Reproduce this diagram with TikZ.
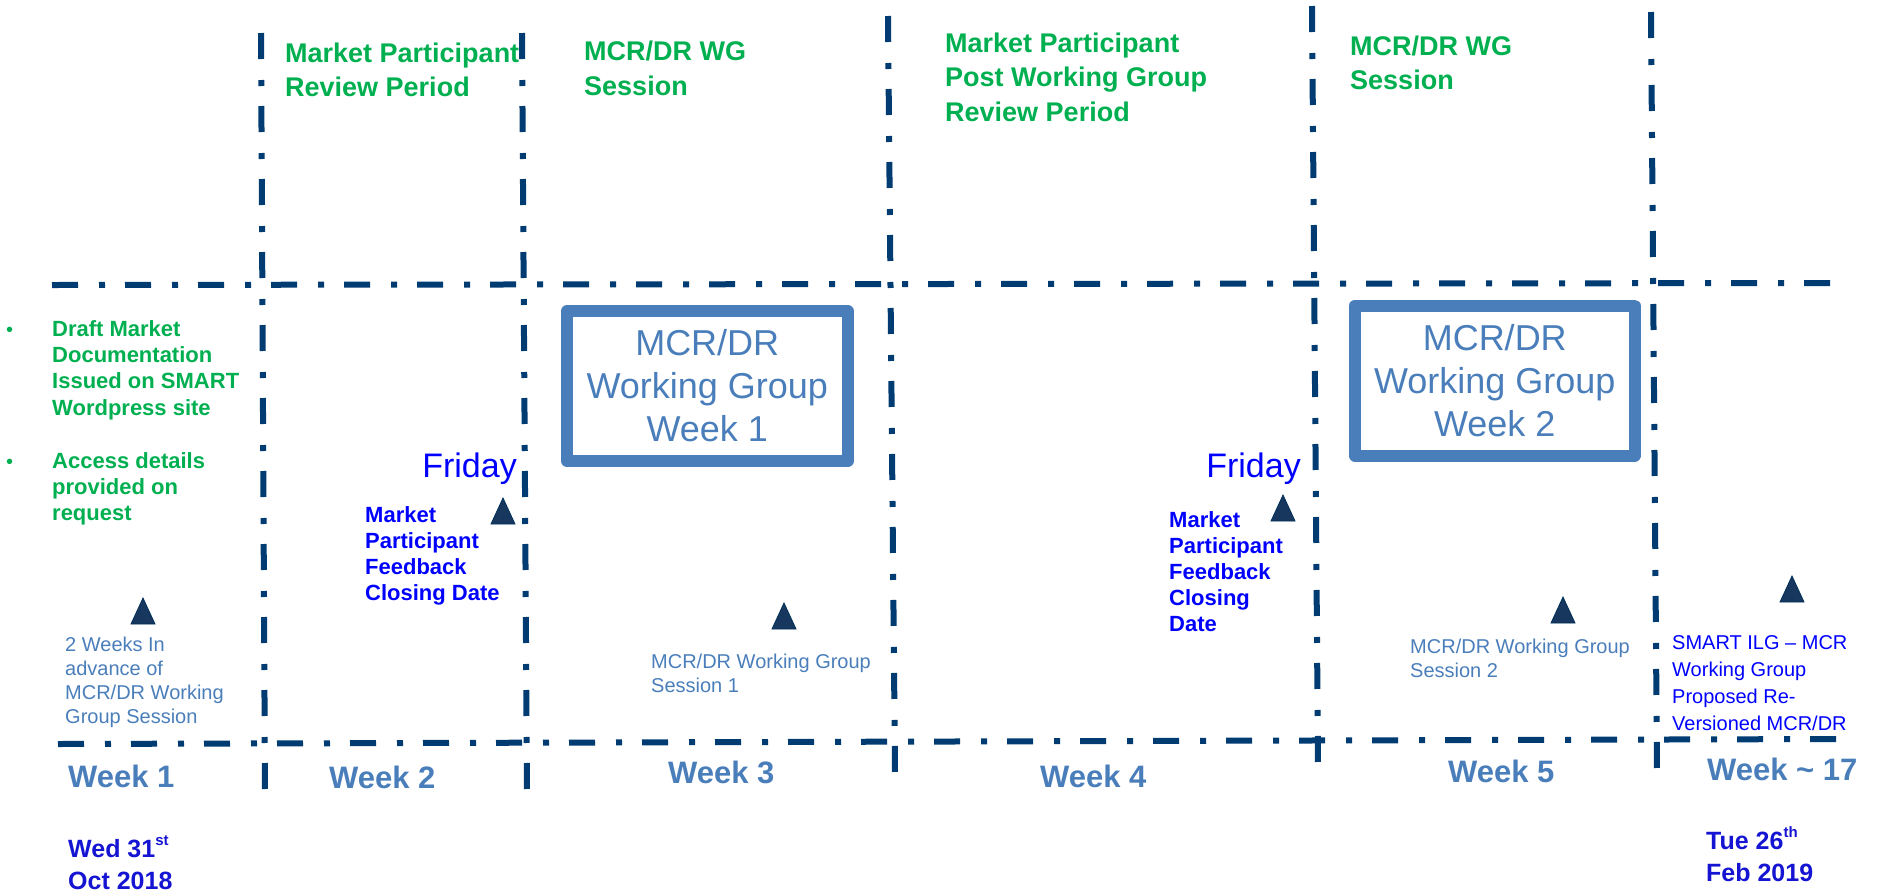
\documentclass[tikz,border=0pt]{standalone}
\usepackage{fontspec}
\setmainfont{Liberation Sans}
\definecolor{navy}{HTML}{003C71}
\definecolor{trinavy}{HTML}{17375E}
\definecolor{mpgreen}{HTML}{00B050}
\definecolor{steel}{HTML}{4A7EBB}
\definecolor{pureblue}{HTML}{0000FF}
\definecolor{dateblue}{HTML}{1414D2}
\newcommand{\fs}[2]{\fontsize{#1}{#2}\selectfont}
\begin{document}
\begin{tikzpicture}[x=1pt,y=-1pt,
  gridline/.style={draw=navy, line width=6pt, dash pattern=on 26pt off 21pt on 6pt off 20pt},
  hdr/.style={anchor=base west, inner sep=0pt, align=left, text=mpgreen, font=\fs{27}{34.5}\bfseries},
  bul/.style={anchor=base west, inner sep=0pt, align=left, text=mpgreen, font=\fs{22}{26.3}\bfseries},
  bulmark/.style={anchor=base west, inner sep=0pt, text=mpgreen, font=\fs{20}{20}},
  fri/.style={anchor=base east, inner sep=0pt, text=pureblue, font=\fs{34}{40}},
  fb/.style={anchor=base west, inner sep=0pt, align=left, text=pureblue, font=\fs{22}{26.2}\bfseries},
  note/.style={anchor=base west, inner sep=0pt, align=left, text=steel, font=\fs{20}{24}},
  smart/.style={anchor=base west, inner sep=0pt, align=left, text=pureblue, font=\fs{20}{27}},
  week/.style={anchor=base west, inner sep=0pt, text=steel, font=\fs{31}{36}\bfseries},
  datelbl/.style={anchor=base west, inner sep=0pt, align=left, text=dateblue, font=\fs{25}{32}\bfseries},
  wgbox/.style={draw=steel, line width=12pt, line join=round, inner sep=0pt, align=center,
    text=steel, font=\fs{36}{43}},
  tri/.style={fill=trinavy, draw=navy!80!black, line width=0.8pt, line join=miter}
]
\useasboundingbox (0,0) rectangle (1893,895);

% grid lines
\coordinate (th0) at (52,285);   \coordinate (th1) at (1831,283);
\coordinate (bh0) at (58,744);   \coordinate (bh1) at (1843,739);
\coordinate (v1t) at (261,33);   \coordinate (v1b) at (265,793);
\coordinate (v2t) at (522,33);   \coordinate (v2b) at (527,793);
\coordinate (v3t) at (888,16);   \coordinate (v3b) at (895,773);
\coordinate (v4t) at (1312,6);   \coordinate (v4b) at (1318,765);
\coordinate (v5t) at (1651,12);  \coordinate (v5b) at (1657,771);
\draw[gridline] (th0) -- (th1);
\draw[gridline] (bh0) -- (bh1);
\draw[gridline] (v1t) -- (v1b);
\draw[gridline] (v2t) -- (v2b);
\draw[gridline] (v3t) -- (v3b);
\draw[gridline] (v4t) -- (v4b);
\draw[gridline] (v5t) -- (v5b);

% headers (anchor = baseline of last line)
\node[hdr] (h1) at (285,96.5) {Market Participant\\Review Period};
\node[hdr] (h2) at (584,95) {MCR/DR WG\\Session};
\node[hdr] (h3) at (945,121) {Market Participant\\Post Working Group\\Review Period};
\node[hdr] (h4) at (1350,89.5) {MCR/DR WG\\Session};

% bullets
\node[bulmark] (bm1) at (6,336) {•};
\node[bul] (b1) at (52,415) {Draft Market\\Documentation\\Issued on SMART\\Wordpress site};
\node[bulmark] (bm2) at (6,468) {•};
\node[bul] (b2) at (52,520.6) {Access details\\provided on\\request};

% Friday labels
\node[fri] (fr1) at (517,477) {Friday};
\node[fri] (fr2) at (1301,477) {Friday};
\node[fb] (fb1) at (365,600.6) {Market\\Participant\\Feedback\\Closing Date};
\node[fb] (fb2) at (1169,631.8) {Market\\Participant\\Feedback\\Closing\\Date};

% boxes
\node[wgbox, minimum width=280.5pt, minimum height=150pt] (box1) at (707.25,386) {MCR/DR\\Working Group\\Week 1};
\node[wgbox, minimum width=279.5pt, minimum height=150pt] (box2) at (1494.75,380.5) {MCR/DR\\Working Group\\Week 2};

% triangles
\newcommand{\tri}[2]{\filldraw[tri] (#1,#2) -- ++(-12,26) -- ++(24,0) -- cycle;}
\tri{143}{598}
\tri{503}{498}
\tri{784}{603}
\tri{1283}{495}
\tri{1563}{597}
\tri{1792}{576}

% notes
\node[note] (n0) at (65,723) {2 Weeks In\\advance of\\MCR/DR Working\\Group Session};
\node[note] (n1) at (651,692) {MCR/DR Working Group\\Session 1};
\node[note] (n2) at (1410,677) {MCR/DR Working Group\\Session 2};
\node[smart] (n3) at (1672,730) {SMART ILG – MCR\\Working Group\\Proposed Re-\\Versioned MCR/DR};

% weeks
\node[week] (w1) at (68,787) {Week 1};
\node[week] (w2) at (329,788) {Week 2};
\node[week] (w3) at (668,783) {Week 3};
\node[week] (w4) at (1040,787) {Week 4};
\node[week] (w5) at (1448,782) {Week 5};
\node[week] (w17) at (1707,780) {Week {\char"7E} 17};

% dates
\node[datelbl] (d1) at (68,889) {Wed 31\raisebox{0.45em}{\fs{15}{15}st}\\Oct 2018};
\node[datelbl] (d2) at (1706,881) {Tue 26\raisebox{0.45em}{\fs{15}{15}th}\\Feb 2019};
\end{tikzpicture}
\end{document}
